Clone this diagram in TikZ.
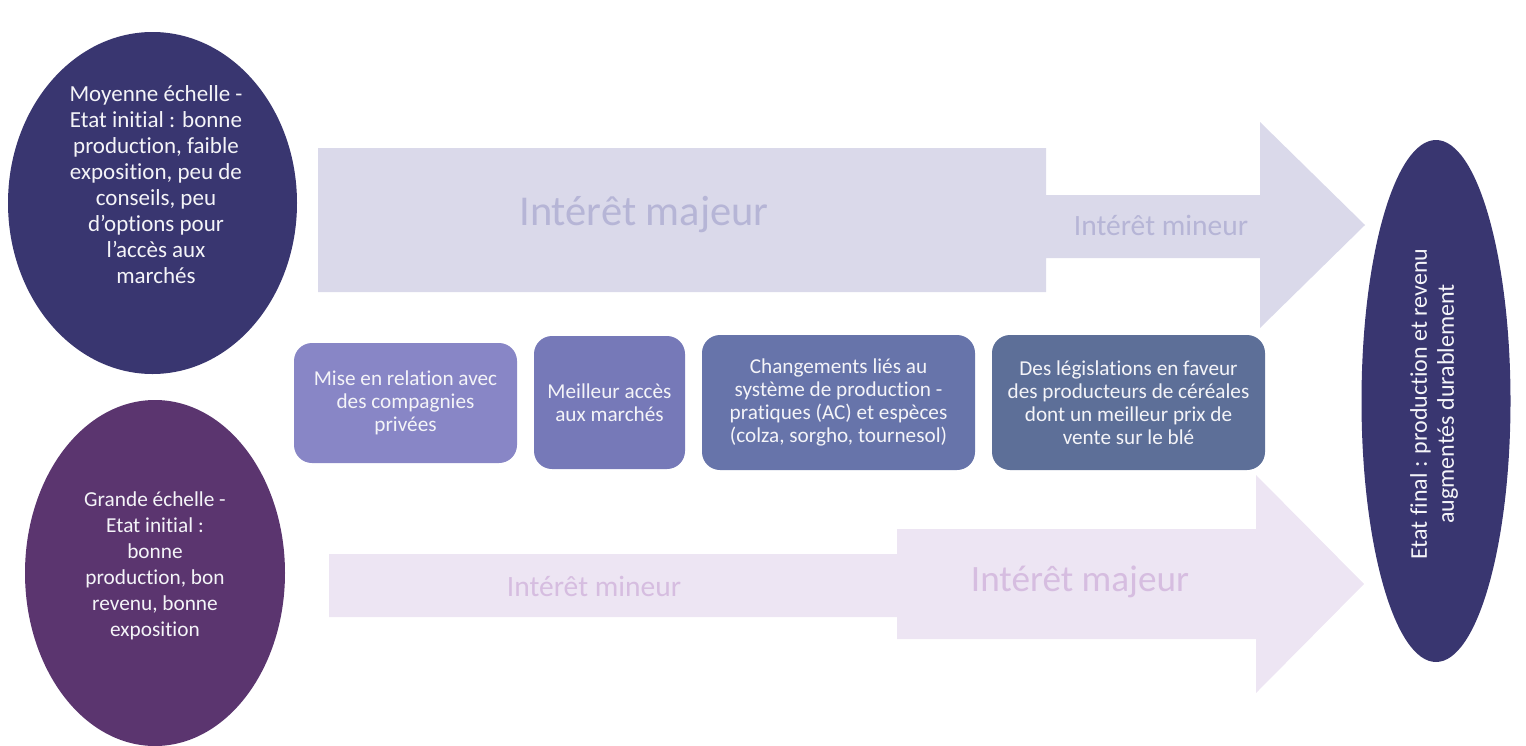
\documentclass[tikz,border=0pt]{standalone}
\usepackage{fontspec}
\setmainfont{Carlito}[Ligatures=NoCommon]
\usetikzlibrary{shapes.geometric}
\definecolor{ellNavy}{HTML}{393670}
\definecolor{ellPlum}{HTML}{5B356F}
\definecolor{boxA}{HTML}{8886C6}
\definecolor{boxB}{HTML}{7679B8}
\definecolor{boxC}{HTML}{6774AA}
\definecolor{boxD}{HTML}{5D6F98}
\definecolor{arrTop}{HTML}{DAD9EA}
\definecolor{arrTopTxt}{HTML}{B6B5D6}
\definecolor{arrBot}{HTML}{EDE5F3}
\definecolor{arrBotTxt}{HTML}{D6BDE0}
\definecolor{txtWhite}{HTML}{F4F4F8}
\begin{document}
\begin{tikzpicture}[x=1pt,y=-1pt,
  oval/.style={ellipse, inner sep=0pt, draw=none},
  ovaltext/.style={text=txtWhite, align=center, font=\fontsize{23}{26}\selectfont, inner sep=0pt},
  stepbox/.style={rounded corners=18pt, inner sep=0pt, text=txtWhite, align=center,
    font=\fontsize{21.2}{23}\selectfont, minimum height=120pt},
  bigtxt/.style={inner sep=0pt}
]
\useasboundingbox (0,0) rectangle (1526,745);

% top arrow
\fill[arrTop] (318,148) -- (1046,148) -- (1046,195) -- (1260,195) -- (1260,122)
  -- (1365,225) -- (1260,328) -- (1260,258) -- (1046,258) -- (1046,292) -- (318,292) -- cycle;
\node[bigtxt, text=arrTopTxt, font=\fontsize{42.5}{50}\selectfont] (tmaj) at (644,215) {Intérêt majeur};
\node[bigtxt, text=arrTopTxt, font=\fontsize{29.5}{35}\selectfont] (tmin) at (1161,225) {Intérêt mineur};

% bottom arrow
\fill[arrBot] (329,554) -- (897,554) -- (897,529) -- (1256,529) -- (1256,475)
  -- (1364,584) -- (1256,693) -- (1256,639) -- (897,639) -- (897,617) -- (329,617) -- cycle;
\node[bigtxt, text=arrBotTxt, font=\fontsize{29.5}{35}\selectfont] (bmin) at (594,586) {Intérêt mineur};
\node[bigtxt, text=arrBotTxt, font=\fontsize{37.2}{44}\selectfont] (bmaj) at (1080,582) {Intérêt majeur};

% ellipses
\node[oval, fill=ellNavy, minimum width=289pt, minimum height=342pt] (e1) at (152.5,203) {};
\node[ovaltext] (e1t) at (156,185) {Moyenne échelle -\\Etat initial : bonne\\production, faible\\exposition, peu de\\conseils, peu\\d’options pour\\l’accès aux\\marchés};

\node[oval, fill=ellPlum, minimum width=260pt, minimum height=346pt] (e2) at (155,573) {};
\node[ovaltext, font=\fontsize{21.3}{26}\selectfont] (e2t) at (155,566) {Grande échelle -\\Etat initial :\\bonne\\production, bon\\revenu, bonne\\exposition};

\node[oval, fill=ellNavy, minimum width=149pt, minimum height=522pt] (e3) at (1436,401) {};
\node[ovaltext, rotate=90, font=\fontsize{24}{27}\selectfont] (e3t) at (1434,404) {Etat final : production et revenu\\augmentés durablement};

% boxes
\node[stepbox, fill=boxA, minimum width=223pt] (b1) at (405.5,403) {Mise en relation avec\\des compagnies\\privées};
\node[stepbox, fill=boxB, minimum width=151pt, minimum height=133pt] (b2) at (609.5,402.5) {Meilleur accès\\aux marchés};
\node[stepbox, fill=boxC, minimum width=273pt, minimum height=135pt] (b3) at (838.5,402.5) {Changements liés au\\système de production -\\pratiques (AC) et espèces\\(colza, sorgho, tournesol)};
\node[stepbox, fill=boxD, minimum width=273pt, minimum height=135pt] (b4) at (1128.5,402.5) {Des législations en faveur\\des producteurs de céréales\\dont un meilleur prix de\\vente sur le blé};
\end{tikzpicture}
\end{document}
